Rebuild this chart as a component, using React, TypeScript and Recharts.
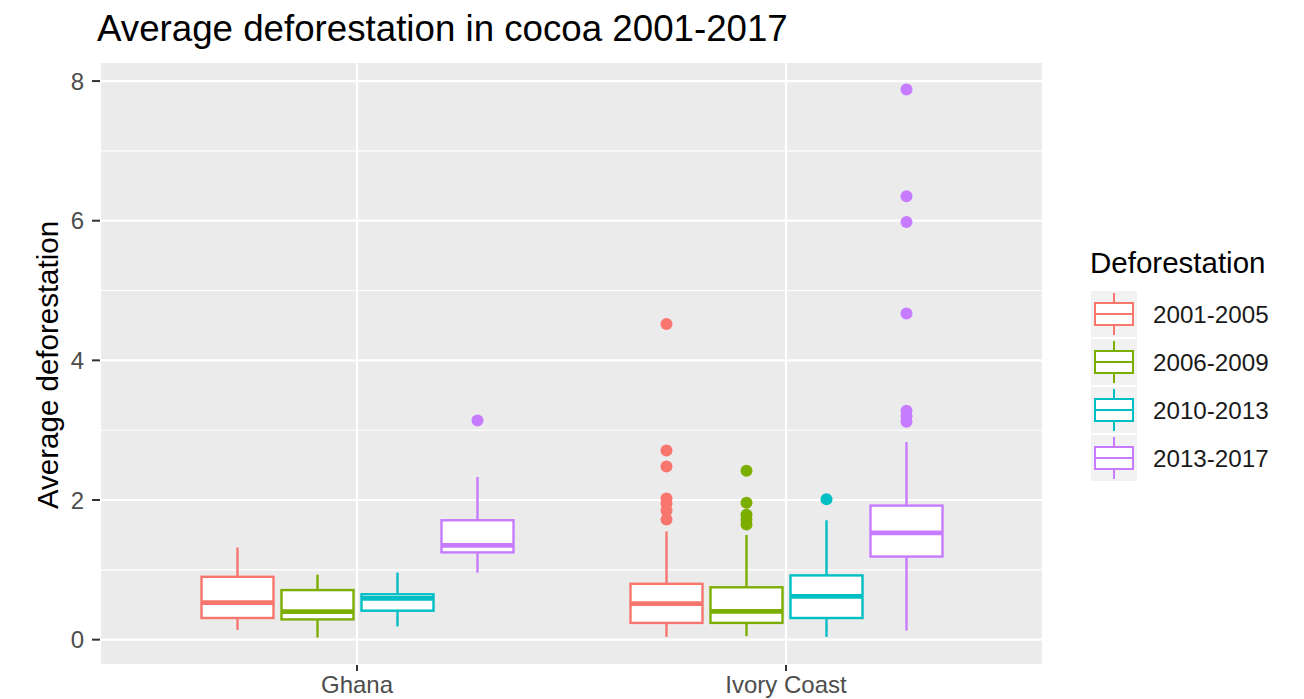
import React from "react";
import { ComposedChart, Bar, XAxis, YAxis, CartesianGrid } from "recharts";

const countries = ["Ghana", "Ivory Coast"];
const periods = ["2001-2005", "2006-2009", "2010-2013", "2013-2017"];
const colors = ["#F8766D", "#7CAE00", "#00BFC4", "#C77CFF"];

// [lower whisker, Q1, median, Q3, upper whisker], one row per country
const stats2001 = [
  [0.14, 0.31, 0.53, 0.9, 1.32],
  [0.04, 0.24, 0.515, 0.8, 1.55],
];
const stats2006 = [
  [0.03, 0.29, 0.4, 0.71, 0.93],
  [0.05, 0.24, 0.405, 0.75, 1.5],
];
const stats2010 = [
  [0.19, 0.415, 0.59, 0.65, 0.96],
  [0.04, 0.31, 0.62, 0.92, 1.71],
];
const stats2013 = [
  [0.96, 1.25, 1.35, 1.71, 2.33],
  [0.13, 1.19, 1.53, 1.92, 2.83],
];

const outliers2001 = [[], [4.52, 2.71, 2.48, 2.02, 1.95, 1.85, 1.72]];
const outliers2006 = [[], [2.42, 1.96, 1.79, 1.72, 1.65]];
const outliers2010 = [[], [2.01]];
const outliers2013 = [[3.14], [7.88, 6.35, 5.98, 4.67, 3.28, 3.2, 3.12]];

const yTicks = [0, 2, 4, 6, 8];
const yMinor = [1, 3, 5, 7];

const allStats = [stats2001, stats2006, stats2010, stats2013];
const allOutliers = [outliers2001, outliers2006, outliers2010, outliers2013];

// range [low whisker, high whisker] per period, the box shape draws the rest
const data = countries.map((country, ci) => {
  const row: any = { country, ci };
  allStats.forEach((s, k) => {
    row[`p${k}`] = [s[ci][0], s[ci][4]];
  });
  return row;
});

const FONT = "'Liberation Sans', Arial, Helvetica, sans-serif";

function makeBox(k: number) {
  return (props: any) => {
    const { x, y, width, height, payload } = props;
    const [lo, q1, med, q3, hi] = allStats[k][payload.ci];
    const top = Math.min(y, y + height);
    const bot = Math.max(y, y + height);
    const ppu = (bot - top) / (hi - lo);
    const toY = (v: number) => bot - (v - lo) * ppu;
    const cx = x + width / 2;
    const c = colors[k];
    return (
      <g>
        <line x1={cx} x2={cx} y1={toY(hi)} y2={toY(q3)} stroke={c} strokeWidth={2.4} />
        <line x1={cx} x2={cx} y1={toY(q1)} y2={toY(lo)} stroke={c} strokeWidth={2.4} />
        <rect
          x={x}
          y={toY(q3)}
          width={width}
          height={toY(q1) - toY(q3)}
          fill="#FFFFFF"
          stroke={c}
          strokeWidth={2.4}
        />
        <line x1={x} x2={x + width} y1={toY(med)} y2={toY(med)} stroke={c} strokeWidth={4.8} />
        {allOutliers[k][payload.ci].map((v, i) => (
          <circle key={i} cx={cx} cy={toY(v)} r={6} fill={c} />
        ))}
      </g>
    );
  };
}

function LegendKey({ k, top }: { k: number; top: number }) {
  const c = colors[k];
  const left = 1091;
  const mid = top + 23;
  return (
    <g>
      <rect x={left} y={top} width={46} height={46} fill="#F2F2F2" />
      <line x1={left + 23} x2={left + 23} y1={top + 2} y2={mid - 11} stroke={c} strokeWidth={2} />
      <line x1={left + 23} x2={left + 23} y1={mid + 11} y2={top + 44} stroke={c} strokeWidth={2} />
      <rect x={left + 4} y={mid - 11} width={38} height={22} fill="#FFFFFF" stroke={c} strokeWidth={2} />
      <line x1={left + 4} x2={left + 42} y1={mid} y2={mid} stroke={c} strokeWidth={2} />
      <text x={1153} y={mid + 8.5} fontSize={24.2} fill="#1A1A1A" fontFamily={FONT}>
        {periods[k]}
      </text>
    </g>
  );
}

export default function App() {
  return (
    <div style={{ position: "absolute", left: 0, top: 0, width: 1304, height: 699, background: "#FFFFFF" }}>
      <ComposedChart
        width={1304}
        height={699}
        data={data}
        margin={{ top: 62, right: 261, left: 0, bottom: 0 }}
        barGap={8}
      >
        <CartesianGrid
          fill="#EBEBEB"
          stroke="#FFFFFF"
          strokeWidth={1.1}
          vertical={false}
          horizontalValues={yMinor}
        />
        <CartesianGrid stroke="#FFFFFF" strokeWidth={2.2} />
        <XAxis
          dataKey="country"
          type="category"
          padding={{ left: 42.5, right: 42.5 }}
          axisLine={false}
          tickSize={6}
          tickMargin={5}
          tickLine={{ stroke: "#333333", strokeWidth: 2 }}
          tick={{ fontSize: 24, fill: "#4D4D4D", fontFamily: FONT }}
          height={34}
        />
        <YAxis
          type="number"
          domain={[-0.363, 8.273]}
          ticks={yTicks}
          allowDataOverflow
          axisLine={false}
          tickSize={8}
          tickMargin={8}
          tickLine={{ stroke: "#333333", strokeWidth: 2 }}
          tick={{ fontSize: 24, fill: "#4D4D4D", fontFamily: FONT }}
          width={100}
        />
        {periods.map((p, k) => (
          <Bar
            key={p}
            dataKey={`p${k}`}
            name={p}
            barSize={72}
            fill={colors[k]}
            shape={makeBox(k)}
            isAnimationActive={false}
          />
        ))}
      </ComposedChart>
      <svg
        width={1304}
        height={699}
        style={{ position: "absolute", left: 0, top: 0, pointerEvents: "none" }}
      >
        <text x={97} y={41} fontSize={36.7} fill="#000000" fontFamily={FONT}>
          Average deforestation in cocoa 2001-2017
        </text>
        <text
          x={0}
          y={0}
          fontSize={29.5}
          fill="#000000"
          fontFamily={FONT}
          textAnchor="middle"
          transform="translate(58,365) rotate(-90)"
        >
          Average deforestation
        </text>
        <text x={1090} y={273} fontSize={29.5} fill="#000000" fontFamily={FONT}>
          Deforestation
        </text>
        {periods.map((p, k) => (
          <LegendKey key={p} k={k} top={291 + k * 48} />
        ))}
      </svg>
    </div>
  );
}
